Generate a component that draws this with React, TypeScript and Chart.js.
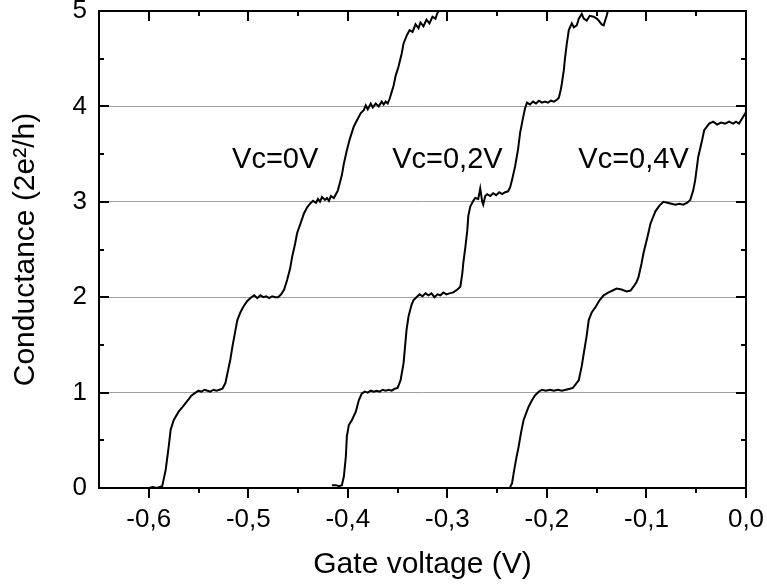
import React, { useEffect, useRef } from 'react';
import { Chart, registerables } from 'chart.js';

Chart.register(...registerables);

const FONT = "'Liberation Sans', Arial, Helvetica, sans-serif";

// Axis ticks (values), labels use a decimal comma
const X_TICKS = [-0.6, -0.5, -0.4, -0.3, -0.2, -0.1, 0.0];
const X_MINOR = [-0.55, -0.45, -0.35, -0.25, -0.15, -0.05];
const Y_TICKS = [0, 1, 2, 3, 4, 5];
const Y_MINOR = [0.5, 1.5, 2.5, 3.5, 4.5];

// Conductance traces [gate voltage (V), G (2e²/h)]
const VC_0V: [number, number][] = [
  [-0.600, 0.00], [-0.596, 0.01], [-0.592, 0.00], [-0.589, 0.01], [-0.5865, 0.02],
  [-0.583, 0.19], [-0.580, 0.43], [-0.578, 0.61], [-0.575, 0.71], [-0.570, 0.80],
  [-0.566, 0.85], [-0.563, 0.89], [-0.560, 0.93], [-0.557, 0.97], [-0.553, 1.00],
  [-0.550, 1.02], [-0.547, 1.01], [-0.544, 1.03], [-0.541, 1.02], [-0.538, 1.01],
  [-0.535, 1.03], [-0.532, 1.02], [-0.529, 1.03], [-0.526, 1.04], [-0.523, 1.10],
  [-0.521, 1.20], [-0.518, 1.35], [-0.516, 1.48], [-0.513, 1.65], [-0.511, 1.76],
  [-0.508, 1.84], [-0.505, 1.90], [-0.501, 1.96], [-0.497, 2.00], [-0.494, 2.02],
  [-0.491, 1.99], [-0.488, 2.02], [-0.485, 2.00], [-0.482, 2.01], [-0.479, 1.99],
  [-0.476, 2.01], [-0.473, 2.00], [-0.470, 2.00], [-0.467, 2.03], [-0.464, 2.08],
  [-0.461, 2.18], [-0.458, 2.30], [-0.456, 2.42], [-0.453, 2.56], [-0.451, 2.67],
  [-0.447, 2.79], [-0.444, 2.88], [-0.441, 2.94], [-0.438, 2.98], [-0.435, 3.01],
  [-0.432, 2.99], [-0.430, 3.03], [-0.428, 3.00], [-0.426, 3.05], [-0.423, 3.02],
  [-0.421, 3.04], [-0.419, 3.01], [-0.417, 3.06], [-0.414, 3.04], [-0.412, 3.08],
  [-0.410, 3.12], [-0.408, 3.20], [-0.406, 3.28], [-0.404, 3.40], [-0.401, 3.54],
  [-0.398, 3.66], [-0.394, 3.79], [-0.390, 3.87], [-0.387, 3.93], [-0.384, 3.96],
  [-0.382, 4.01], [-0.380, 3.97], [-0.377, 4.03], [-0.375, 3.99], [-0.372, 4.03],
  [-0.369, 4.00], [-0.366, 4.05], [-0.364, 4.02], [-0.362, 4.05], [-0.360, 4.03],
  [-0.358, 4.08], [-0.356, 4.15], [-0.354, 4.22], [-0.352, 4.32], [-0.349, 4.42],
  [-0.346, 4.55], [-0.344, 4.66], [-0.341, 4.74], [-0.338, 4.80], [-0.335, 4.78],
  [-0.332, 4.86], [-0.329, 4.82], [-0.327, 4.88], [-0.324, 4.84], [-0.321, 4.91],
  [-0.318, 4.87], [-0.315, 4.94], [-0.312, 4.92], [-0.310, 4.98], [-0.307, 5.02],
  [-0.304, 5.06],
];

const VC_02V: [number, number][] = [
  [-0.416, 0.03], [-0.412, 0.03], [-0.409, 0.02], [-0.406, 0.03], [-0.404, 0.12],
  [-0.402, 0.33], [-0.401, 0.54], [-0.399, 0.66], [-0.396, 0.71], [-0.392, 0.80],
  [-0.389, 0.92], [-0.386, 0.99], [-0.383, 1.01], [-0.380, 1.00], [-0.377, 1.02],
  [-0.374, 1.01], [-0.371, 1.02], [-0.368, 1.01], [-0.365, 1.03], [-0.362, 1.02],
  [-0.359, 1.03], [-0.356, 1.02], [-0.353, 1.04], [-0.350, 1.05], [-0.347, 1.13],
  [-0.344, 1.31], [-0.341, 1.66], [-0.339, 1.80], [-0.336, 1.92], [-0.334, 1.97],
  [-0.331, 2.00], [-0.328, 2.03], [-0.325, 2.01], [-0.322, 2.04], [-0.319, 2.02],
  [-0.316, 2.04], [-0.313, 2.00], [-0.310, 2.03], [-0.307, 2.02], [-0.304, 2.05],
  [-0.301, 2.03], [-0.298, 2.04], [-0.294, 2.05], [-0.290, 2.08], [-0.287, 2.11],
  [-0.285, 2.25], [-0.284, 2.36], [-0.282, 2.52], [-0.280, 2.70], [-0.279, 2.85],
  [-0.277, 2.95], [-0.274, 3.01], [-0.272, 3.04], [-0.269, 3.03], [-0.267, 3.14],
  [-0.265, 3.00], [-0.264, 2.97], [-0.262, 3.06], [-0.260, 3.08], [-0.257, 3.06],
  [-0.254, 3.09], [-0.251, 3.07], [-0.248, 3.10], [-0.245, 3.08], [-0.242, 3.10],
  [-0.239, 3.11], [-0.237, 3.15], [-0.235, 3.23], [-0.232, 3.37], [-0.229, 3.55],
  [-0.227, 3.72], [-0.224, 3.88], [-0.222, 3.98], [-0.220, 4.04], [-0.217, 4.02],
  [-0.214, 4.05], [-0.211, 4.03], [-0.208, 4.06], [-0.205, 4.04], [-0.202, 4.05],
  [-0.199, 4.04], [-0.196, 4.06], [-0.193, 4.05], [-0.190, 4.07], [-0.188, 4.09],
  [-0.186, 4.18], [-0.185, 4.24], [-0.183, 4.38], [-0.182, 4.49], [-0.180, 4.66],
  [-0.178, 4.80], [-0.175, 4.87], [-0.173, 4.83], [-0.170, 4.85], [-0.168, 4.92],
  [-0.165, 4.97], [-0.163, 4.92], [-0.160, 4.90], [-0.157, 4.95], [-0.153, 4.94],
  [-0.150, 4.92], [-0.148, 4.90], [-0.145, 4.86], [-0.143, 4.85], [-0.140, 4.95],
  [-0.138, 5.03],
];

const VC_04V: [number, number][] = [
  [-0.237, 0.01], [-0.235, 0.05], [-0.2335, 0.15], [-0.231, 0.30], [-0.2285, 0.43],
  [-0.226, 0.58], [-0.2235, 0.71], [-0.2185, 0.85], [-0.215, 0.92], [-0.212, 0.97],
  [-0.208, 1.01], [-0.205, 1.03], [-0.201, 1.02], [-0.197, 1.03], [-0.193, 1.02],
  [-0.189, 1.03], [-0.185, 1.02], [-0.181, 1.03], [-0.177, 1.04], [-0.174, 1.05],
  [-0.171, 1.09], [-0.168, 1.13], [-0.165, 1.28], [-0.163, 1.41], [-0.160, 1.60],
  [-0.158, 1.76], [-0.155, 1.84], [-0.151, 1.90], [-0.147, 1.97], [-0.143, 2.02],
  [-0.138, 2.05], [-0.134, 2.07], [-0.130, 2.09], [-0.125, 2.08], [-0.120, 2.06],
  [-0.116, 2.07], [-0.113, 2.11], [-0.110, 2.16], [-0.108, 2.21], [-0.105, 2.35],
  [-0.103, 2.46], [-0.099, 2.63], [-0.096, 2.77], [-0.091, 2.90], [-0.087, 2.96],
  [-0.083, 3.00], [-0.079, 2.99], [-0.075, 2.98], [-0.071, 2.97], [-0.067, 2.98],
  [-0.063, 2.97], [-0.059, 2.99], [-0.056, 3.02], [-0.053, 3.12], [-0.051, 3.23],
  [-0.048, 3.47], [-0.044, 3.65], [-0.042, 3.75], [-0.037, 3.82], [-0.033, 3.84],
  [-0.029, 3.81], [-0.025, 3.83], [-0.021, 3.82], [-0.017, 3.84], [-0.013, 3.82],
  [-0.010, 3.84], [-0.007, 3.82], [-0.003, 3.89], [0.000, 3.94],
];

const SERIES = [
  { name: 'Vc=0V', points: VC_0V },
  { name: 'Vc=0,2V', points: VC_02V },
  { name: 'Vc=0,4V', points: VC_04V },
];

// Curve labels anchored in data coordinates
const CURVE_LABELS = [
  { text: 'Vc=0V', x: -0.473, y: 3.44 },
  { text: 'Vc=0,2V', x: -0.300, y: 3.44 },
  { text: 'Vc=0,4V', x: -0.113, y: 3.44 },
];

const fmt = (v: number) => Number(v).toFixed(1).replace('.', ',').replace('-0,0', '0,0');

// Frame with inward ticks (left, top, right), outward ticks on the bottom, and curve labels
const framePlugin = {
  id: 'frameTicks',
  afterDraw(chart: any) {
    const { ctx, chartArea: a, scales } = chart;
    const xs = scales.x;
    const ys = scales.y;
    ctx.save();
    ctx.strokeStyle = '#000';
    ctx.lineWidth = 2;
    ctx.lineCap = 'butt';
    ctx.beginPath();
    ctx.rect(a.left, a.top, a.right - a.left, a.bottom - a.top);
    ctx.stroke();

    const major = 10;
    const minor = 5;
    ctx.beginPath();
    const xTick = (v: number, len: number) => {
      const px = Math.round(xs.getPixelForValue(v));
      ctx.moveTo(px, a.bottom);
      ctx.lineTo(px, a.bottom + len);
      ctx.moveTo(px, a.top);
      ctx.lineTo(px, a.top + len);
    };
    const yTick = (v: number, len: number) => {
      const py = Math.round(ys.getPixelForValue(v));
      ctx.moveTo(a.left, py);
      ctx.lineTo(a.left + len, py);
      ctx.moveTo(a.right, py);
      ctx.lineTo(a.right - len, py);
    };
    X_TICKS.forEach((v) => xTick(v, major));
    X_MINOR.forEach((v) => xTick(v, minor));
    Y_TICKS.forEach((v) => yTick(v, major));
    Y_MINOR.forEach((v) => yTick(v, minor));
    ctx.stroke();

    ctx.fillStyle = '#000';
    ctx.font = `29px ${FONT}`;
    ctx.textAlign = 'center';
    ctx.textBaseline = 'middle';
    CURVE_LABELS.forEach((l) => {
      ctx.fillText(l.text, xs.getPixelForValue(l.x), ys.getPixelForValue(l.y));
    });
    ctx.restore();
  },
};

export default function App() {
  const canvasRef = useRef<HTMLCanvasElement | null>(null);

  useEffect(() => {
    const canvas = canvasRef.current;
    if (!canvas) return;
    const chart = new Chart(canvas, {
      type: 'line',
      data: {
        datasets: SERIES.map((s) => ({
          label: s.name,
          data: s.points.map(([x, y]) => ({ x, y })),
          borderColor: '#000',
          borderWidth: 2,
          pointRadius: 0,
          tension: 0,
          fill: false,
        })),
      },
      options: {
        responsive: false,
        animation: false,
        devicePixelRatio: 1,
        layout: { padding: { top: 11, right: 21, left: 0, bottom: 0 } },
        plugins: {
          legend: { display: false },
          tooltip: { enabled: false },
        },
        scales: {
          x: {
            type: 'linear',
            min: -0.65,
            max: 0,
            afterBuildTicks: (s: any) => {
              s.ticks = X_TICKS.map((v) => ({ value: v }));
            },
            afterFit: (s: any) => {
              s.height = 99;
              s.paddingLeft = 0;
              s.paddingRight = 0;
            },
            ticks: {
              callback: (v: any) => fmt(v),
              font: { size: 26, family: FONT },
              color: '#000',
              padding: 16,
              maxRotation: 0,
              autoSkip: false,
            },
            grid: { display: false, drawTicks: false },
            border: { display: false },
            title: {
              display: true,
              text: 'Gate voltage (V)',
              font: { size: 30, family: FONT },
              color: '#000',
              padding: { top: 0, bottom: 4 },
            },
          },
          y: {
            type: 'linear',
            min: 0,
            max: 5,
            afterBuildTicks: (s: any) => {
              s.ticks = Y_TICKS.map((v) => ({ value: v }));
            },
            afterFit: (s: any) => {
              s.width = 99;
              s.paddingTop = 0;
              s.paddingBottom = 0;
            },
            ticks: {
              callback: (v: any) => String(v),
              font: { size: 26, family: FONT },
              color: '#000',
              padding: 12,
            },
            grid: {
              drawTicks: false,
              lineWidth: 1,
              color: (c: any) => {
                const v = c.tick ? c.tick.value : 0;
                return v > 0 && v < 5 ? '#a0a0a0' : 'rgba(0,0,0,0)';
              },
            },
            border: { display: false },
            title: {
              display: true,
              text: 'Conductance (2e²/h)',
              font: { size: 30, family: FONT },
              color: '#000',
              padding: { top: 8, bottom: 0 },
            },
          },
        },
      },
      plugins: [framePlugin],
    });
    return () => chart.destroy();
  }, []);

  return (
    <div style={{ position: 'fixed', left: 0, top: 0, width: 767, height: 587, background: '#fff' }}>
      <canvas ref={canvasRef} width={767} height={587} style={{ width: 767, height: 587 }} />
    </div>
  );
}
